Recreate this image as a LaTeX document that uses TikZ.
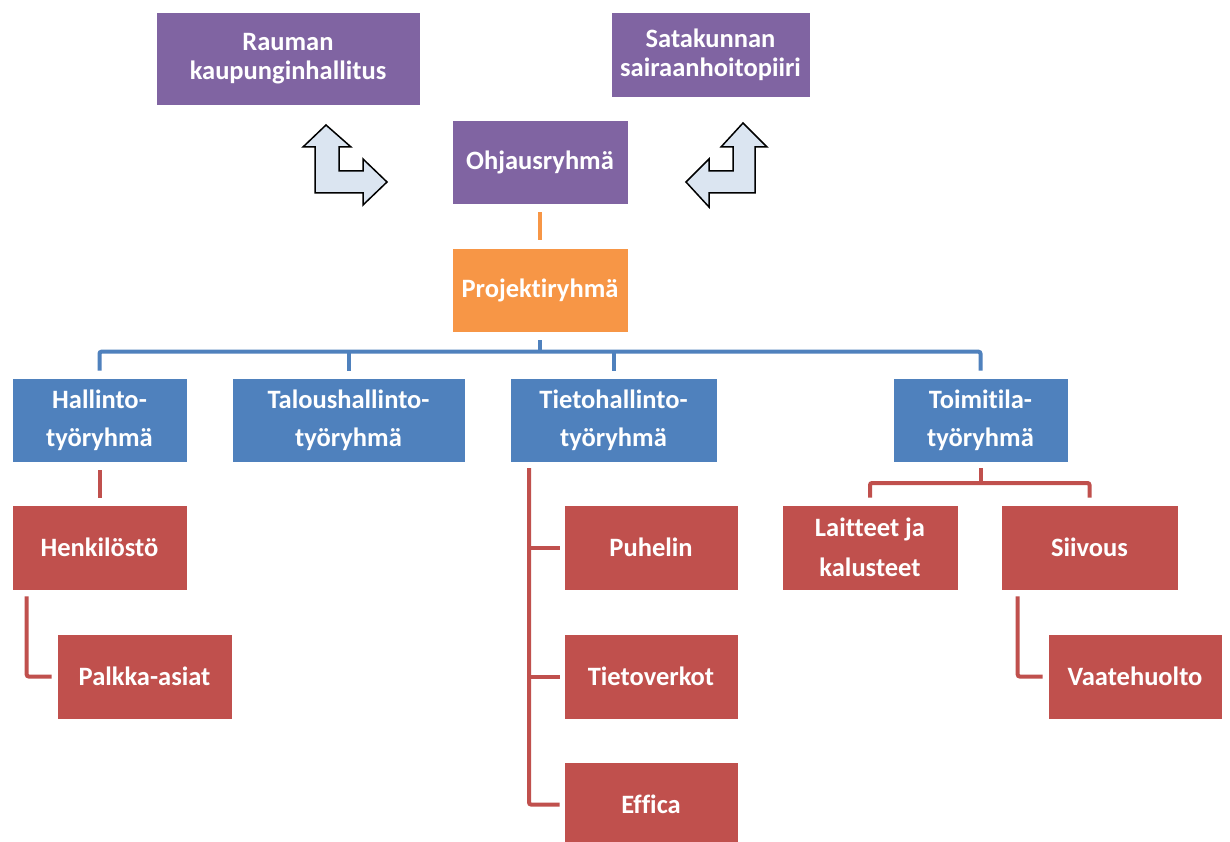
\documentclass[tikz,border=0pt]{standalone}
\usepackage{fontspec}
\setmainfont[Ligatures=NoCommon]{Carlito}
\usetikzlibrary{calc}
\definecolor{cpurple}{HTML}{8064A2}
\definecolor{corange}{HTML}{F79646}
\definecolor{cblue}{HTML}{4F81BD}
\definecolor{cred}{HTML}{C0504D}
\definecolor{carrow}{HTML}{DBE5F1}
\begin{document}
\begin{tikzpicture}[x=1pt,y=-1pt,
  box/.style={rectangle,inner sep=0pt,text=white,align=center,draw=white,line width=0.6pt},
  pbox/.style={box,fill=cpurple,font=\fontsize{26.5}{29}\selectfont\bfseries},
  obox/.style={box,fill=corange,font=\fontsize{26.5}{36}\selectfont\bfseries},
  bbox/.style={box,fill=cblue,font=\fontsize{26.5}{38}\selectfont\bfseries},
  rbox/.style={box,fill=cred,font=\fontsize{26.5}{40}\selectfont\bfseries},
  bline/.style={draw=cblue,line width=4pt,rounded corners=2pt},
  rline/.style={draw=cred,line width=4pt,rounded corners=2pt},
  oline/.style={draw=corange,line width=4pt},
  bent/.style={fill=carrow,draw=black,line width=1.5pt,line join=miter}]
\useasboundingbox (0,0) rectangle (1230,842);
\fill[white] (0,0) rectangle (1230,842);

% top level
\node[pbox,minimum width=264pt,minimum height=93pt] (rauman) at (288,58.5) {Rauman\\kaupunginhallitus};
\node[pbox,minimum width=199pt,minimum height=85pt] (sata) at (710.5,54.5) {Satakunnan\\sairaanhoitopiiri};
\node[pbox,minimum width=176pt,minimum height=84pt] (ohj) at (540,162) {Ohjausryhmä};
\node[obox,minimum width=176pt,minimum height=84pt] (proj) at (540,290) {Projektiryhmä};

% working groups
\node[bbox,minimum width=175pt,minimum height=84pt] (hall) at (99.5,420) {Hallinto-\\työryhmä};
\node[bbox,minimum width=233pt,minimum height=84pt] (talo) at (348.5,420) {Taloushallinto-\\työryhmä};
\node[bbox,minimum width=207pt,minimum height=84pt] (tieto) at (613.5,420) {Tietohallinto-\\työryhmä};
\node[bbox,minimum width=175pt,minimum height=84pt] (toim) at (980.5,420) {Toimitila-\\työryhmä};

% sub items
\node[rbox,minimum width=175pt,minimum height=85pt] (henk) at (99.5,547.5) {Henkilöstö};
\node[rbox,minimum width=175pt,minimum height=85pt] (palk) at (144.5,676.5) {Palkka-asiat};
\node[rbox,minimum width=174pt,minimum height=85pt] (puh) at (651,547.5) {Puhelin};
\node[rbox,minimum width=174pt,minimum height=85pt] (tver) at (651,676.5) {Tietoverkot};
\node[rbox,minimum width=174pt,minimum height=85pt] (eff) at (651,804.5) {Effica};
\node[rbox,minimum width=176pt,minimum height=85pt] (lait) at (870,547.5) {Laitteet ja\\kalusteet};
\node[rbox,minimum width=177pt,minimum height=85pt] (siiv) at (1089.5,547.5) {Siivous};
\node[rbox,minimum width=174pt,minimum height=85pt] (vaat) at (1135,676.5) {Vaatehuolto};

% bent arrows
\draw[bent] (326,125) -- (351,147) -- (339,147) -- (339,171) -- (363,171) -- (363,159)
  -- (387,182) -- (363,205) -- (363,193) -- (315,193) -- (315,147) -- (303,147) -- cycle;
\draw[bent] (743,123) -- (767,147) -- (755,147) -- (755,193) -- (709,193) -- (709,207)
  -- (686,182) -- (709,159) -- (709,171) -- (733,171) -- (733,147) -- (721,147) -- cycle;

% connectors
\draw[oline,shorten <=8pt,shorten >=8pt] (ohj.south) -- (proj.north);

\coordinate (bus) at (540,352);
\draw[bline] ([yshift=-8pt]proj.south) -- (bus);
\draw[bline] ([yshift=7pt]hall.north) |- ([yshift=26pt]toim.north) -- ([yshift=7pt]toim.north);
\draw[bline] ([yshift=7pt]talo.north) -- ([yshift=26pt]talo.north);
\draw[bline] ([yshift=7pt]tieto.north) -- ([yshift=26pt]tieto.north);

\draw[rline,shorten <=8pt,shorten >=7pt] (hall.south) -- (henk.north);
\draw[rline] ([xshift=15pt,yshift=-6pt]henk.south west) |- ([xshift=-5pt]palk.west);

\coordinate (tv) at (529,468);
\draw[rline] (tv) |- ([xshift=-4pt]eff.west);
\draw[rline] ([xshift=-4pt]puh.west) -- (puh.west -| tv);
\draw[rline] ([xshift=-4pt]tver.west) -- (tver.west -| tv);

\coordinate (tb) at (980.5,483);
\draw[rline] ([yshift=-6pt]toim.south) -- (tb);
\draw[rline] ([yshift=7pt]lait.north) |- (tb) -| ([yshift=7pt]siiv.north);
\draw[rline] ([xshift=17pt,yshift=-6pt]siiv.south west) |- ([xshift=-5pt]vaat.west);
\end{tikzpicture}
\end{document}
